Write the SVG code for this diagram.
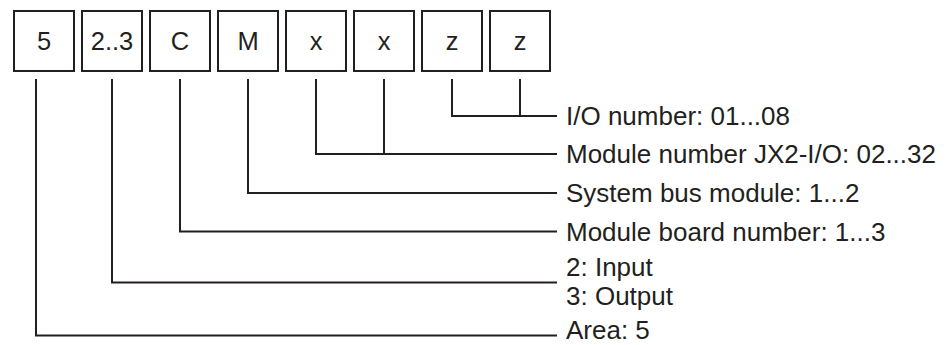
<svg xmlns="http://www.w3.org/2000/svg" width="952" height="345" viewBox="0 0 952 345">
  <style>
    .box { fill: #ffffff; stroke: #231f20; stroke-width: 2; }
    .ch { font-family: "Liberation Sans", Arial, sans-serif; font-size: 25.5px; fill: #231f20; text-anchor: middle; }
    .lbl { font-family: "Liberation Sans", Arial, sans-serif; font-size: 26px; fill: #231f20; }
    .wire { fill: none; stroke: #231f20; stroke-width: 2; stroke-linejoin: miter; }
  </style>
  <rect width="952" height="345" fill="#ffffff"/>

  <!-- address character boxes -->
  <g id="box-area"><rect class="box" x="14" y="11" width="60" height="60"/><text class="ch" x="44" y="49.5">5</text></g>
  <g id="box-io"><rect class="box" x="82" y="11" width="60" height="60"/><text class="ch" x="112" y="49.5">2..3</text></g>
  <g id="box-board"><rect class="box" x="150" y="11" width="60" height="60"/><text class="ch" x="180" y="49.5">C</text></g>
  <g id="box-bus"><rect class="box" x="218" y="11" width="60" height="60"/><text class="ch" x="248" y="49.5">M</text></g>
  <g id="box-mod1"><rect class="box" x="286" y="11" width="60" height="60"/><text class="ch" x="316" y="49.5">x</text></g>
  <g id="box-mod2"><rect class="box" x="354" y="11" width="60" height="60"/><text class="ch" x="384" y="49.5">x</text></g>
  <g id="box-num1"><rect class="box" x="422" y="11" width="60" height="60"/><text class="ch" x="452" y="49.5">z</text></g>
  <g id="box-num2"><rect class="box" x="490" y="11" width="60" height="60"/><text class="ch" x="520" y="49.5">z</text></g>

  <!-- leader lines -->
  <g id="connectors">
    <polyline class="wire" points="452,79 452,116 557,116"/>
    <line class="wire" x1="520" y1="79" x2="520" y2="116"/>
    <polyline class="wire" points="316,79 316,154 557,154"/>
    <line class="wire" x1="384" y1="79" x2="384" y2="154"/>
    <polyline class="wire" points="248,79 248,193 557,193"/>
    <polyline class="wire" points="180,79 180,231.5 557,231.5"/>
    <polyline class="wire" points="112,79 112,282.5 557,282.5"/>
    <polyline class="wire" points="36,79 36,335.5 557,335.5"/>
  </g>

  <!-- field descriptions -->
  <g id="labels">
    <text class="lbl" x="566" y="125">I/O number: 01...08</text>
    <text class="lbl" x="566" y="163">Module number JX2-I/O: 02...32</text>
    <text class="lbl" x="566" y="202">System bus module: 1...2</text>
    <text class="lbl" x="566" y="240.5">Module board number: 1...3</text>
    <text class="lbl" x="566" y="275.5">2: Input</text>
    <text class="lbl" x="566" y="304.5">3: Output</text>
    <text class="lbl" x="566" y="339">Area: 5</text>
  </g>
</svg>
